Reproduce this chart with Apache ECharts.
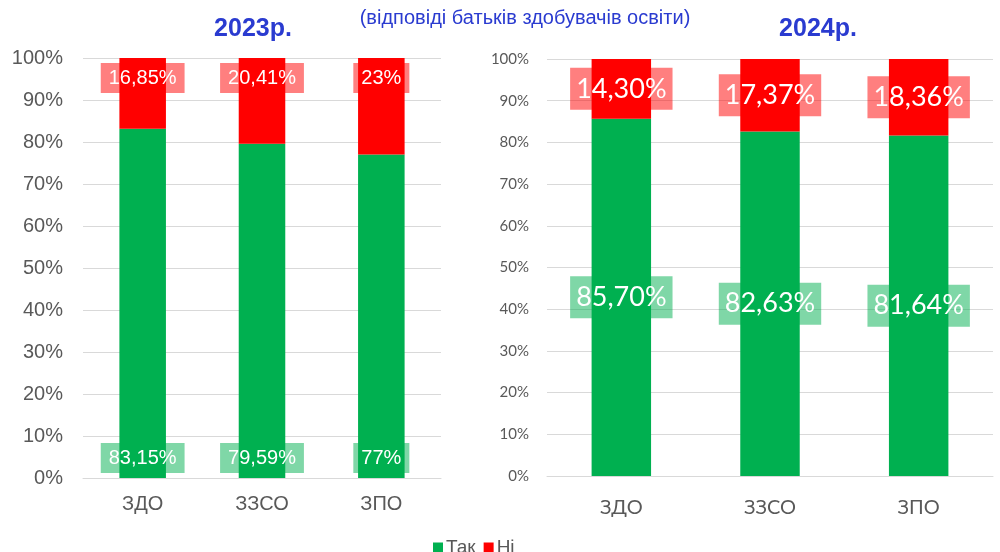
<!DOCTYPE html>
<html>
<head>
<meta charset="utf-8">
<script src="https://cdn.jsdelivr.net/npm/echarts@6/dist/echarts.min.js"></script>
<style>
  html, body { margin: 0; padding: 0; background: #fff; }
  #chart { width: 1000px; height: 552px; }
</style>
</head>
<body>
<div id="chart"></div>
<script>
// дані
const categories = ['ЗДО', 'ЗЗСО', 'ЗПО'];
const yes2023 = [83.15, 79.59, 77];
const no2023 = [16.85, 20.41, 23];
const yes2024 = [85.70, 82.63, 81.64];
const no2024 = [14.30, 17.37, 18.36];

const GREEN = '#00B050';
const RED = '#FF0000';
const BLUE = '#2A3BD0';
const GRAY = '#595959';

// 83.15 -> "83,15%", 77 -> "77%"
function fmt(v) {
  if (Number.isInteger(v)) return v + '%';
  return v.toFixed(2).replace('.', ',') + '%';
}

let chart = echarts.init(document.getElementById('chart'));

// підпис на стовпчику
function lbl(pos, bg, size, pad, lh) {
  return {
    show: true,
    position: pos,
    distance: 5,
    color: '#fff',
    fontSize: size,
    lineHeight: lh,
    fontFamily: size > 22 ? 'Lato' : 'Liberation Sans',
    backgroundColor: bg,
    padding: pad,
    formatter: (p) => fmt(p.value)
  };
}

let option = {
  animation: false,
  title: [
    { text: '(відповіді батьків здобувачів освіти)', left: 520, top: 3, textAlign: 'center',
      textStyle: { color: BLUE, fontSize: 20, fontWeight: 'normal', fontFamily: 'Liberation Sans' } },
    { text: '2023р.', left: 248, top: 12, textAlign: 'center',
      textStyle: { color: BLUE, fontSize: 25, fontWeight: 'bold', fontFamily: 'Liberation Sans' } },
    { text: '2024р.', left: 813, top: 12, textAlign: 'center',
      textStyle: { color: BLUE, fontSize: 25, fontWeight: 'bold', fontFamily: 'Liberation Sans' } }
  ],
  legend: {
    data: ['Так', 'Ні'],
    left: 428,
    top: 533,
    itemWidth: 10,
    itemHeight: 10,
    itemGap: 8,
    icon: 'rect',
    textStyle: { color: GRAY, fontSize: 19, fontFamily: 'Liberation Sans', padding: [0, 0, 0, -2] }
  },
  grid: [
    { left: 83, width: 358, top: 58, height: 420 },
    { left: 547, width: 446, top: 59, height: 417 }
  ],
  xAxis: [
    { type: 'category', gridIndex: 0, data: categories,
      axisLine: { lineStyle: { color: '#D9D9D9' } }, axisTick: { show: false },
      axisLabel: { color: GRAY, fontSize: 20, margin: 16, fontFamily: 'Liberation Sans' } },
    { type: 'category', gridIndex: 1, data: categories,
      axisLine: { lineStyle: { color: '#D9D9D9' } }, axisTick: { show: false },
      axisLabel: { color: GRAY, fontSize: 20, margin: 22, fontFamily: 'Lato' } }
  ],
  yAxis: [
    { type: 'value', gridIndex: 0, min: 0, max: 100, interval: 10,
      axisLabel: { formatter: '{value}%', color: GRAY, fontSize: 20, margin: 20, fontFamily: 'Liberation Sans' },
      splitLine: { lineStyle: { color: '#D9D9D9' } } },
    { type: 'value', gridIndex: 1, min: 0, max: 100, interval: 10,
      axisLabel: { formatter: '{value}%', color: GRAY, fontSize: 15, margin: 18, fontFamily: 'Lato' },
      splitLine: { lineStyle: { color: '#D9D9D9' } } }
  ],
  series: [
    { name: 'Так', type: 'bar', stack: 'a', xAxisIndex: 0, yAxisIndex: 0, data: yes2023,
      barWidth: '39%', itemStyle: { color: GREEN },
      label: lbl('insideBottom', 'rgba(0,176,80,0.5)', 20, [4, 8], 22) },
    { name: 'Ні', type: 'bar', stack: 'a', xAxisIndex: 0, yAxisIndex: 0, data: no2023,
      barWidth: '39%', itemStyle: { color: RED },
      label: lbl('insideTop', 'rgba(255,0,0,0.5)', 20, [4, 8], 22) },
    { name: 'Так', type: 'bar', stack: 'b', xAxisIndex: 1, yAxisIndex: 1, data: yes2024,
      barWidth: '40%', itemStyle: { color: GREEN },
      label: lbl('inside', 'rgba(0,176,80,0.5)', 27, [6, 6], 30) },
    { name: 'Ні', type: 'bar', stack: 'b', xAxisIndex: 1, yAxisIndex: 1, data: no2024,
      barWidth: '40%', itemStyle: { color: RED },
      label: lbl('inside', 'rgba(255,0,0,0.5)', 27, [6, 6], 30) }
  ]
};

chart.setOption(option);
</script>
</body>
</html>
